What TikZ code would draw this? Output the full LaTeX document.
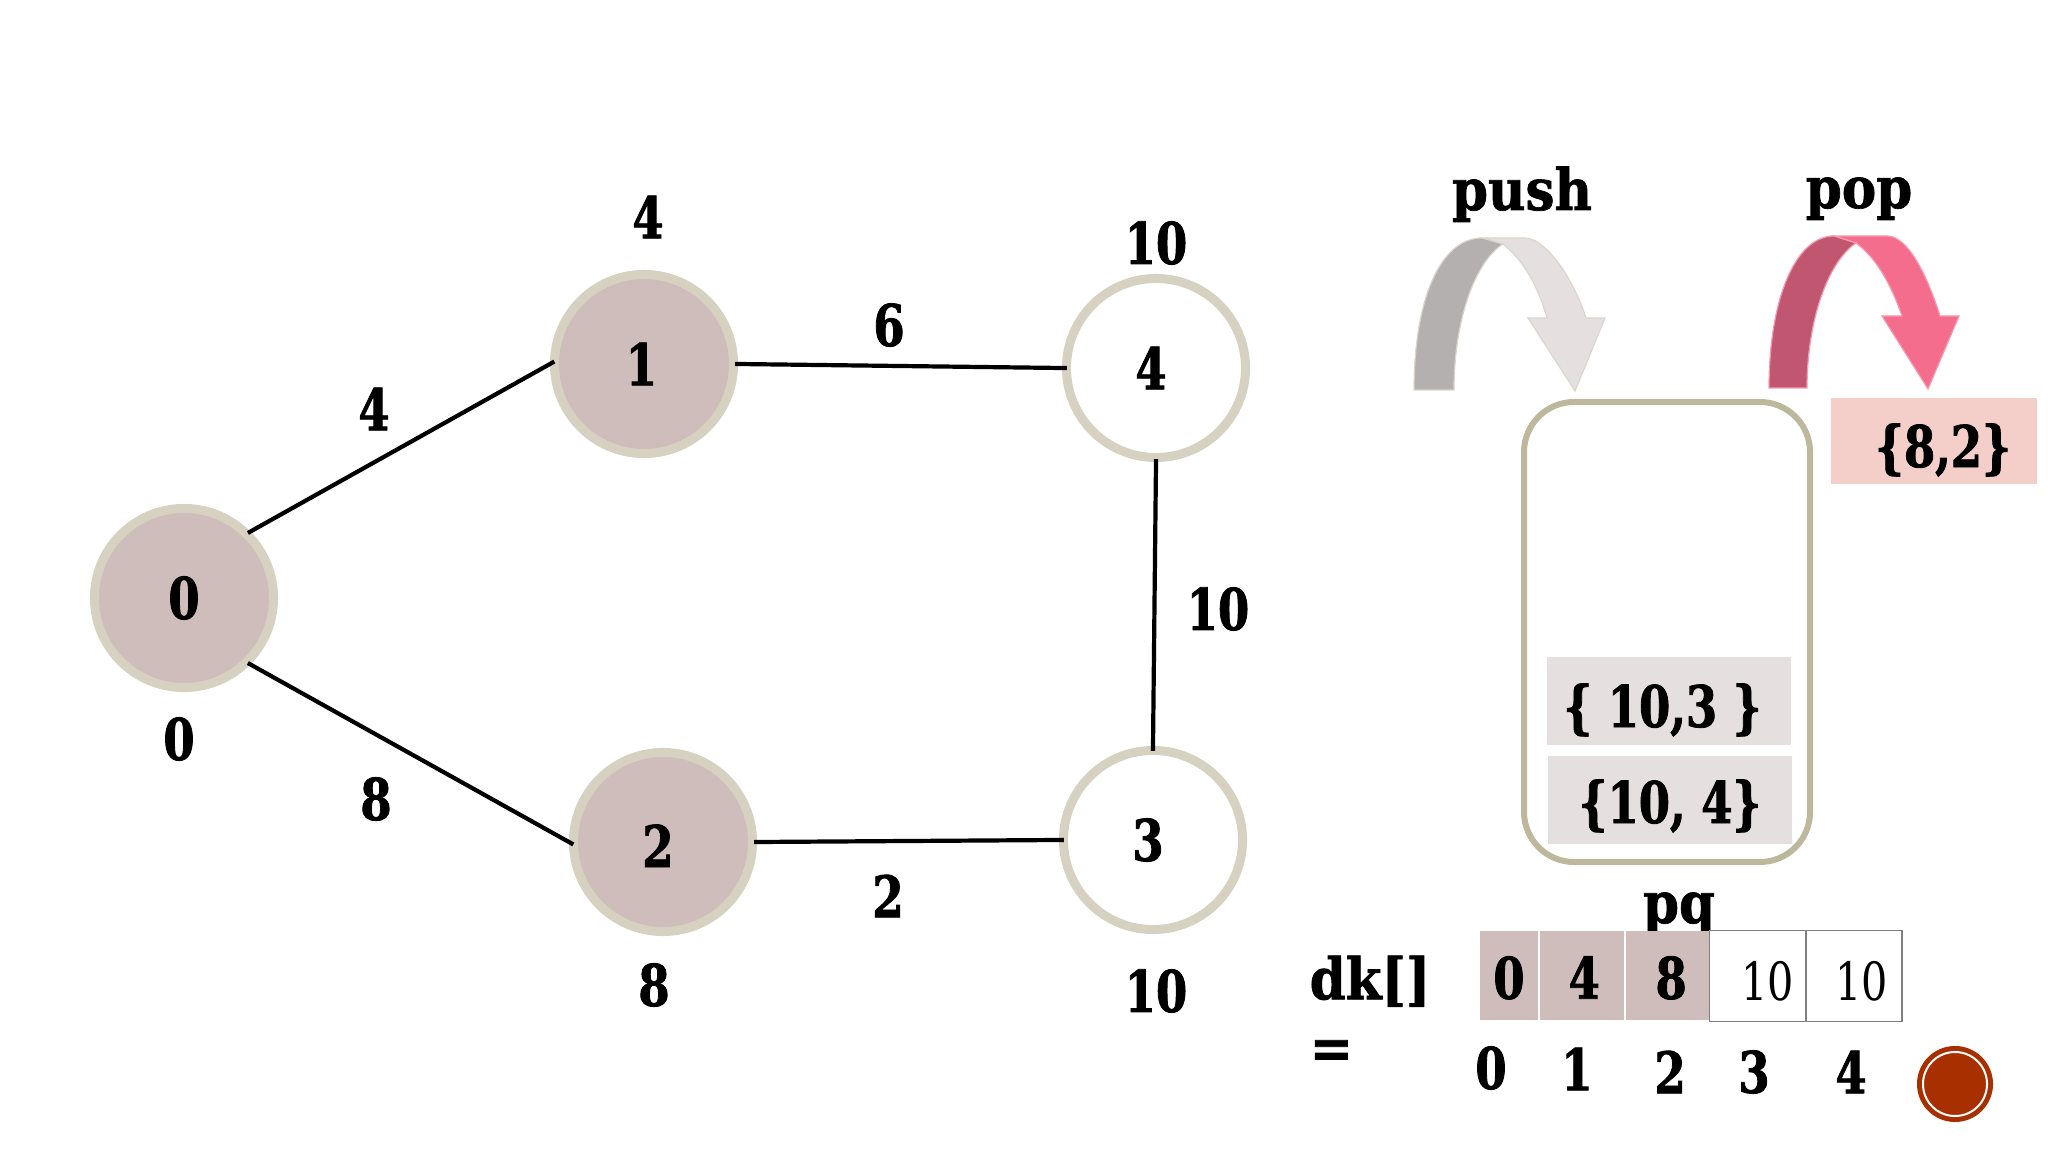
\documentclass[tikz,border=0pt]{standalone}
\usepackage{fontspec}
\setmainfont{DejaVu Serif Condensed}[BoldFont={DejaVu Serif Condensed Bold},BoldFeatures={FakeBold=1.2}]
\newfontfamily\slimfont{DejaVu Serif Condensed}[BoldFont={DejaVu Serif Condensed Bold},BoldFeatures={FakeBold=1.4},FakeStretch=0.87]
\usepackage{tikz}
\usetikzlibrary{positioning}
\definecolor{ringtan}{HTML}{D6D1C0}
\definecolor{visited}{HTML}{CFBDBC}
\definecolor{stacktan}{HTML}{BDB79C}
\definecolor{entry}{HTML}{E6DFE0}
\definecolor{popped}{HTML}{F4CFCA}
\definecolor{pushdark}{HTML}{B5B0B0}
\definecolor{pushlight}{HTML}{E6DFDF}
\definecolor{pushedge}{HTML}{DAD6CE}
\definecolor{popdark}{HTML}{C0566F}
\definecolor{poplight}{HTML}{F56D8D}
\definecolor{popedge}{HTML}{F79AB0}
\definecolor{logored}{HTML}{A83000}

\begin{document}
\begin{tikzpicture}
    [x=0.01cm,y=-0.01cm,
    word/.style={font=\bfseries\fontsize{16.3}{19.5}\selectfont,inner sep=0pt},
    txt/.style={font=\slimfont\bfseries\fontsize{16.3}{19.5}\selectfont,inner sep=0pt},
    vertex/.style={circle,txt,draw=ringtan,line width=0.09cm,minimum size=1.79cm},
    done/.style={vertex,fill=visited},
    open/.style={vertex,fill=white},
    link/.style={line width=0.042cm,black,shorten <=-0.03cm,shorten >=-0.05cm},
    entrybox/.style={txt,fill=entry,minimum width=2.43cm,minimum height=0.87cm,text depth=0cm},
    cell/.style={txt,minimum height=0.89cm,anchor=north west,text depth=0cm},
    shaded/.style={cell,fill=visited,text height=0.47cm},
    blank/.style={cell,fill=white,draw=gray,line width=0.012cm,minimum height=0.91cm,
        text height=0.49cm,font=\slimfont\fontsize{15}{18}\selectfont}]
    \useasboundingbox (0,0) rectangle (2048,1152);

    \node[done] (n0) at (184,598) {0};
    \node[done] (n1) at (644,364) {\hspace*{-0.05cm}1};
    \node[done,text height=0.5cm,text depth=0cm] (n2) at (663,842) {\hspace*{-0.1cm}2};
    \node[open] (n3) at (1153,840) {\hspace*{-0.1cm}3};
    \node[open] (n4) at (1156,368) {\hspace*{-0.1cm}4};
    \path (n0.45) edge [link] (n1.west)
        (n0.-45) edge [link] (n2.west)
        (n1.east) edge [link] (n4.west)
        (n2.east) edge [link] (n3.west)
        (n4.south) edge [link] (n3.north);

    \node[txt] (w01) at (374,409) {4};
    \node[txt] (w02) at (376,799) {8};
    \node[txt] (w14) at (889,325) {6};
    \node[txt] (w23) at (888,896) {2};
    \node[txt] (w43) at (1218,609) {10};
    \node[txt] (d0) at (179,739) {0};
    \node[txt] (d1) at (648,217) {4};
    \node[txt] (d2) at (654,985) {8};
    \node[txt] (d3) at (1156,991) {10};
    \node[txt] (d4) at (1156,243) {10};

    \node[word,anchor=base] (push) at (1522,210) {push};
    \node[word,anchor=base] (pop) at (1859,208) {pop};
    \draw[pushedge,fill=pushlight,line width=0.012cm] (1482,238) -- (1525,238)
        .. controls (1545,238) and (1573,277) .. (1586,318) -- (1605,318) -- (1575,391)
        -- (1528,318) -- (1547,318) .. controls (1538,287) and (1525,262) .. (1503,244) -- cycle;
    \draw[pushedge,fill=pushdark,line width=0.012cm] (1414,390)
        .. controls (1414,300) and (1440,238) .. (1482,238) -- (1503,244)
        .. controls (1475,262) and (1454,320) .. (1454,390) -- cycle;
    \draw[popedge,fill=poplight,line width=0.012cm] (1834,236) -- (1887,236)
        .. controls (1908,236) and (1927,275) .. (1940,316) -- (1959,316) -- (1928,389)
        -- (1882,316) -- (1902,316) .. controls (1890,282) and (1876,258) .. (1856,243) -- cycle;
    \draw[popedge,fill=popdark,line width=0.012cm] (1769,388)
        .. controls (1769,300) and (1795,236) .. (1834,236) -- (1856,243)
        .. controls (1828,262) and (1807,320) .. (1807,388) -- cycle;

    \draw[stacktan,line width=0.06cm,rounded corners=0.5cm] (1524,402) rectangle (1810,862);
    \node[entrybox,text height=0.52cm] (e3) at (1669,701) {\hspace*{-0.13cm}\{ 10,3 \}};
    \node[entrybox,text height=0.46cm] (e4) at (1670,800) {\{10, 4\}};
    \node[txt,fill=popped,minimum width=2.05cm,minimum height=0.86cm,text height=0.52cm,text depth=0cm] (out) at (1934,441) {\hspace*{0.18cm}\{8,2\}};

    \node[word,anchor=base] (pq) at (1679,923) {pq};
    \node[shaded,minimum width=0.585cm] (c0) at (1479,930) {0};
    \node[shaded,minimum width=0.84cm,right=0cm of c0] (c1) {\hspace*{0.05cm}4};
    \node[shaded,minimum width=0.86cm,right=0.005cm of c1] (c2) {\hspace*{0.05cm}8};
    \node[blank,minimum width=0.96cm,anchor=north west] (c3) at (1709,930) {\hspace*{0.2cm}10};
    \node[blank,minimum width=0.95cm,right=0cm of c3] (c4) {\hspace*{0.14cm}10};

    \node[word,align=left,anchor=north west] (dk) at (1309,955) {dk[]\\=};
    \node[txt] (i0) at (1491,1068) {0};
    \node[txt] (i1) at (1577,1069) {1};
    \node[txt] (i2) at (1670,1072) {2};
    \node[txt] (i3) at (1754,1072) {3};
    \node[txt] (i4) at (1851,1072) {4};

    \node[circle,fill=logored,minimum size=0.76cm,inner sep=0pt] (logo) at (1955,1084) {};
    \node[circle,draw=white,line width=0.02cm,minimum size=0.64cm,inner sep=0pt] (logoring) at (logo) {};
\end{tikzpicture}
\end{document}
